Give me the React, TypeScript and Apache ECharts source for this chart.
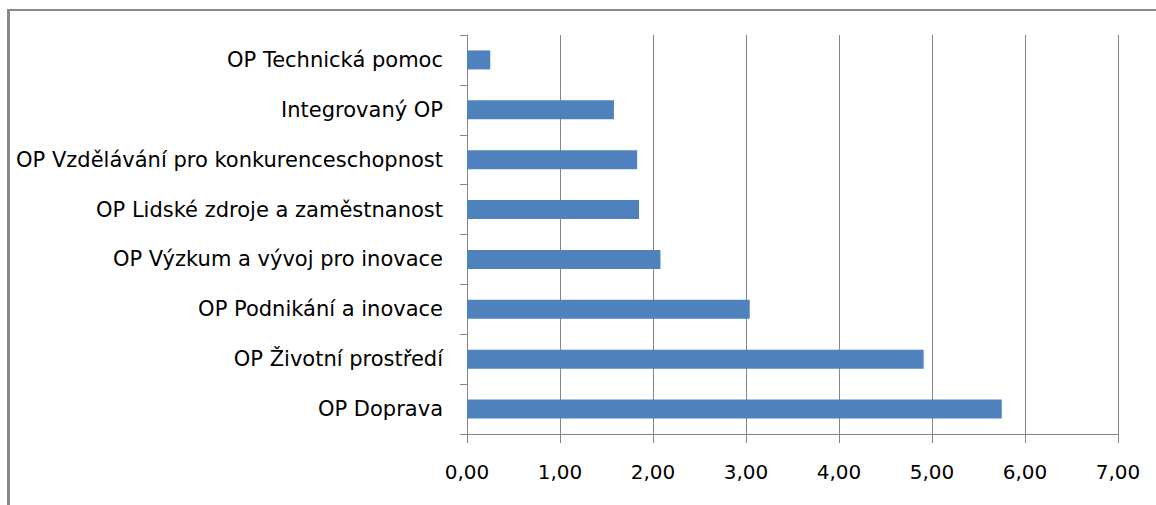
import React, { useEffect, useRef } from "react";
import * as echarts from "echarts";

const categories = [
  "OP Doprava",
  "OP Životní prostředí",
  "OP Podnikání a inovace",
  "OP Výzkum a vývoj pro inovace",
  "OP Lidské zdroje a zaměstnanost",
  "OP Vzdělávání pro konkurenceschopnost",
  "Integrovaný OP",
  "OP Technická pomoc",
];
const values = [5.75, 4.91, 3.04, 2.08, 1.85, 1.83, 1.58, 0.25];
const xMin = 0;
const xMax = 7;
const xInterval = 1;

export default function App() {
  const ref = useRef<HTMLDivElement>(null);
  useEffect(() => {
    if (!ref.current) return;
    const chart = echarts.init(ref.current, null, { renderer: "svg" });
    const font = "DejaVu Sans";
    chart.setOption({
      animation: false,
      backgroundColor: "#ffffff",
      grid: { left: 467, top: 35, right: 38, bottom: 71, containLabel: false },
      xAxis: {
        type: "value",
        min: xMin,
        max: xMax,
        interval: xInterval,
        axisLine: { show: true, lineStyle: { color: "#868686", width: 1 } },
        axisTick: { show: true, length: 9, lineStyle: { color: "#868686" } },
        splitLine: { show: true, lineStyle: { color: "#868686", width: 1 } },
        axisLabel: {
          margin: 28,
          color: "#000",
          fontFamily: font,
          fontSize: 20,
          formatter: (v: number) => v.toFixed(2).replace(".", ","),
        },
      },
      yAxis: {
        type: "category",
        data: categories,
        axisLine: { show: true, lineStyle: { color: "#868686", width: 1 } },
        axisTick: { show: true, length: 7, alignWithLabel: false, lineStyle: { color: "#868686" } },
        splitLine: { show: false },
        axisLabel: {
          margin: 24,
          color: "#000",
          fontFamily: font,
          fontSize: 21,
          padding: [3, 0, 0, 0],
        },
      },
      series: [
        {
          type: "bar",
          data: values,
          barWidth: 19,
          itemStyle: { color: "#4F81BD" },
        },
      ],
      graphic: [
        {
          type: "line",
          shape: { x1: 7, y1: 10, x2: 1156, y2: 10 },
          style: { stroke: "#888888", lineWidth: 2 },
        },
        {
          type: "line",
          shape: { x1: 8.5, y1: 9, x2: 8.5, y2: 505 },
          style: { stroke: "#888888", lineWidth: 3 },
        },
      ],
    });
    return () => chart.dispose();
  }, []);
  return (
    <div
      ref={ref}
      style={{ position: "fixed", left: 0, top: 0, width: 1156, height: 505 }}
    />
  );
}
